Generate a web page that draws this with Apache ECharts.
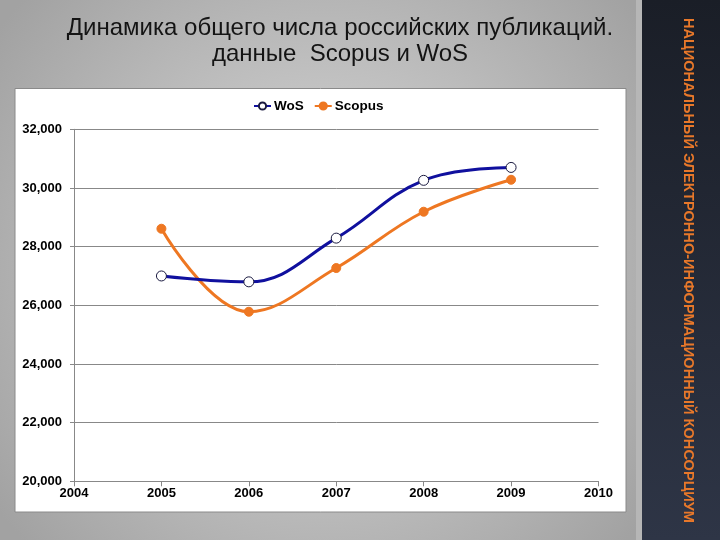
<!DOCTYPE html>
<html>
<head>
<meta charset="utf-8">
<script src="https://cdn.jsdelivr.net/npm/echarts@6/dist/echarts.min.js"></script>
<style>
html,body{margin:0;padding:0;}
#chart{width:720px;height:540px;}
</style>
</head>
<body>
<div id="chart"></div>
<script>
const years = [2005, 2006, 2007, 2008, 2009];
const wos = [27000, 26800, 28290, 30260, 30700];
const scopus = [28610, 25780, 27270, 29190, 30280];
const titleLines = ['Динамика общего числа российских публикаций.', 'данные  Scopus и WoS'];
const sideText = 'НАЦИОНАЛЬНЫЙ ЭЛЕКТРОННО-ИНФОРМАЦИОННЫЙ КОНСОРЦИУМ';

const chart = echarts.init(document.getElementById('chart'), null, {renderer: 'canvas'});
const font = 'Liberation Sans, Arial, sans-serif';

chart.setOption({
  animation: false,
  backgroundColor: 'transparent',
  graphic: [
    {type: 'rect', z: -100, silent: true, shape: {x: 0, y: 0, width: 720, height: 540},
     style: {fill: new echarts.graphic.RadialGradient(0.45, 0.5, 0.75, [
       {offset: 0, color: '#dcdcdc'}, {offset: 1, color: '#a2a2a2'}])}},
    {type: 'rect', z: -90, silent: true, shape: {x: 15, y: 88.5, width: 611, height: 423.5},
     style: {fill: '#ffffff', stroke: '#8a8a8a', lineWidth: 1}},
    {type: 'rect', z: -90, silent: true, shape: {x: 636, y: 0, width: 6, height: 540},
     style: {fill: '#b6b6b6'}},
    {type: 'rect', z: -90, silent: true, shape: {x: 642, y: 0, width: 78, height: 540},
     style: {fill: new echarts.graphic.LinearGradient(0, 0, 0, 1, [
       {offset: 0, color: '#1a1e27'}, {offset: 1, color: '#2e3546'}])}},
    {type: 'text', z: 50, silent: true, x: 688, y: 18, rotation: -Math.PI / 2,
     style: {text: sideText, fill: '#e8782a', font: 'bold 14.6px ' + font,
             textAlign: 'left', textVerticalAlign: 'middle'}}
  ],
  title: [
    {text: titleLines.join('\n'), left: 335, top: 10, textAlign: 'center',
     textStyle: {fontFamily: font, fontSize: 24, fontWeight: 'normal', color: '#141414', lineHeight: 26}}
  ],
  legend: {
    top: 99, left: 253, padding: 0, itemGap: 10, itemWidth: 17, itemHeight: 9,
    data: ['WoS', 'Scopus'],
    textStyle: {fontFamily: font, fontSize: 13.5, fontWeight: 'bold', color: '#000', padding: [0, 0, 0, -2]}
  },
  grid: {left: 74, right: 121.5, top: 129.3, bottom: 58.7, containLabel: false},
  xAxis: {
    type: 'value', min: 2004, max: 2010, interval: 1,
    axisLine: {lineStyle: {color: '#888', width: 1}},
    axisTick: {show: true, length: 5, lineStyle: {color: '#888'}},
    splitLine: {show: false},
    axisLabel: {formatter: v => String(v), fontFamily: font, fontSize: 13, fontWeight: 'bold', color: '#000', margin: 6}
  },
  yAxis: {
    type: 'value', min: 20000, max: 32000, interval: 2000,
    axisLine: {show: true, lineStyle: {color: '#888', width: 1}},
    axisTick: {show: true, length: 4, lineStyle: {color: '#888'}},
    splitLine: {show: true, lineStyle: {color: '#888', width: 1}},
    axisLabel: {formatter: v => v.toLocaleString('en-US'), fontFamily: font, fontSize: 13, fontWeight: 'bold', color: '#000', margin: 12}
  },
  series: [
    {name: 'WoS', type: 'line', data: years.map((y, i) => [y, wos[i]]), smooth: 0.4,
     symbol: 'circle', symbolSize: 10, z: 3,
     lineStyle: {color: '#10109e', width: 3},
     itemStyle: {color: '#ffffff', borderColor: '#1a1a40', borderWidth: 1}},
    {name: 'Scopus', type: 'line', data: years.map((y, i) => [y, scopus[i]]), smooth: 0.4,
     symbol: 'circle', symbolSize: 9, z: 2,
     lineStyle: {color: '#ee7722', width: 3},
     itemStyle: {color: '#ee7722', borderColor: '#ee7722', borderWidth: 1}}
  ]
});
</script>
</body>
</html>
